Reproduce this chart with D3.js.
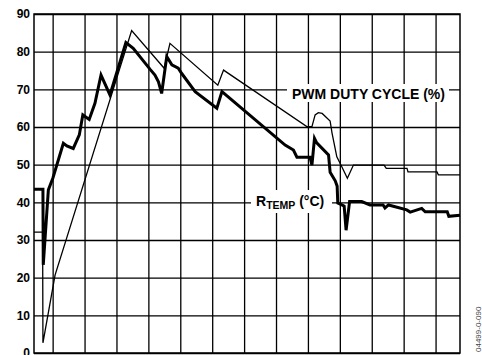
<!DOCTYPE html>
<html>
<head>
<meta charset="utf-8">
<script src="https://cdn.jsdelivr.net/npm/d3@7"></script>
<style>
  body { margin: 0; background: #fff; }
  svg { display: block; }
  text { font-family: "Liberation Sans", Arial, Helvetica, sans-serif; }
</style>
</head>
<body>
<svg id="chart" width="482" height="355"></svg>
<script>
// Y axis ticks (both series share the 0–90 scale)
const yTicks = [0, 10, 20, 30, 40, 50, 60, 70, 80, 90];
// Vertical grid positions (time divisions)
const xGrid = [0, 1, 2, 3, 4, 5, 6, 7, 8, 9, 10, 11, 12];

// PWM duty cycle (%) – thin trace
const pwmX = [-0.60, -0.33, -0.32, 0.06, 2.46, 3.48, 3.66, 5.16, 5.34, 7.95, 8.11, 8.21, 8.31, 8.43, 8.68, 8.74, 8.89, 9.02, 9.22, 9.41, 10.37, 10.44, 11.09, 11.12, 12.03, 12.07, 12.75];
const pwmY = [32.1, 32.1, 2.7, 20.7, 85.6, 75.6, 82.2, 71.1, 75.1, 60.1, 60.1, 63.2, 63.8, 63.6, 61.6, 58.4, 52.1, 49.9, 46.4, 49.9, 49.9, 49.0, 49.0, 48.1, 48.1, 47.3, 47.3];

// Remote temperature (°C) – thick trace
const tempX = [-0.60, -0.32, -0.31, -0.15, -0.01, 0.32, 0.43, 0.63, 0.82, 0.93, 1.13, 1.31, 1.50, 1.78, 2.28, 2.51, 3.04, 3.19, 3.30, 3.40, 3.56, 3.72, 3.92, 4.03, 4.45, 5.13, 5.29, 7.27, 7.53, 7.64, 8.05, 8.11, 8.19, 8.26, 8.63, 8.68, 8.84, 8.90, 8.92, 9.05, 9.12, 9.18, 9.29, 9.67, 9.93, 10.34, 10.40, 10.51, 11.08, 11.19, 11.55, 11.66, 12.35, 12.40, 12.75];
const tempY = [43.5, 43.5, 23.4, 43.3, 46.4, 55.7, 55.0, 54.3, 57.9, 63.2, 62.0, 66.3, 73.8, 68.5, 82.4, 80.9, 75.3, 73.8, 72.0, 68.9, 78.7, 76.5, 75.6, 74.2, 69.4, 65.0, 69.4, 55.2, 53.9, 52.0, 52.0, 49.9, 57.0, 55.8, 52.6, 48.0, 45.7, 44.3, 39.8, 39.3, 39.0, 32.6, 40.2, 40.2, 39.3, 39.3, 38.5, 39.3, 38.0, 37.4, 38.4, 37.5, 37.5, 36.3, 36.6];

const pwmLabel = "PWM DUTY CYCLE (%)";
const tempLabelMain = "R";
const tempLabelSub = "TEMP";
const tempLabelUnit = " (°C)";
const figureId = "04499-0-090";

const svg = d3.select("#chart");
const W = 482, H = 355;
const margin = { top: 14, right: 22, bottom: 2, left: 34 };
const w = W - margin.left - margin.right;
const h = H - margin.top - margin.bottom;

const x = d3.scaleLinear().domain([-0.6, 12.75]).range([0, w]);
const y = d3.scaleLinear().domain([0, 90]).range([h, 0]);

const g = svg.append("g").attr("transform", `translate(${margin.left},${margin.top})`);

// Horizontal grid + tick labels
const yAxis = d3.axisLeft(y).tickValues(yTicks).tickSize(-w).tickPadding(4);
const ya = g.append("g").call(yAxis);
ya.select(".domain").remove();
ya.selectAll(".tick line").attr("stroke", "#000").attr("stroke-width", 1.3);
ya.selectAll(".tick text")
  .attr("fill", "#000")
  .style("font-size", "12px")
  .style("font-weight", "bold");

// Vertical grid
g.append("g").selectAll("line").data(xGrid).join("line")
  .attr("x1", d => x(d)).attr("x2", d => x(d))
  .attr("y1", 0).attr("y2", h)
  .attr("stroke", "#000").attr("stroke-width", 1.3);

// Frame
g.append("rect").attr("x", 0).attr("y", 0).attr("width", w).attr("height", h)
  .attr("fill", "none").attr("stroke", "#000").attr("stroke-width", 1.5);

// Labels on white plates
function plate(x0, y0, x1, y1) {
  svg.append("rect").attr("x", x0).attr("y", y0).attr("width", x1 - x0).attr("height", y1 - y0).attr("fill", "#fff");
}
plate(287, 84, 449, 102);
svg.append("text").attr("x", 292).attr("y", 98.5)
  .style("font-size", "14px").style("font-weight", "bold").text(pwmLabel);

plate(251, 190, 332, 213);
const tl = svg.append("text").attr("x", 256).attr("y", 206)
  .style("font-size", "14px").style("font-weight", "bold");
tl.append("tspan").text(tempLabelMain);
tl.append("tspan").attr("dy", 3).style("font-size", "10.5px").text(tempLabelSub);
tl.append("tspan").attr("dy", -3).text(tempLabelUnit);

// Data traces
const line = d3.line().x(d => x(d[0])).y(d => y(d[1]));
g.append("path").datum(d3.zip(pwmX, pwmY))
  .attr("d", line).attr("fill", "none").attr("stroke", "#000")
  .attr("stroke-width", 1.3).attr("stroke-linejoin", "miter");
g.append("path").datum(d3.zip(tempX, tempY))
  .attr("d", line).attr("fill", "none").attr("stroke", "#000")
  .attr("stroke-width", 3).attr("stroke-linejoin", "miter");

// Figure number along the right edge
svg.append("text")
  .attr("transform", "translate(480.5,352) rotate(-90)")
  .style("font-size", "8px").attr("fill", "#444")
  .text(figureId);
</script>
</body>
</html>
